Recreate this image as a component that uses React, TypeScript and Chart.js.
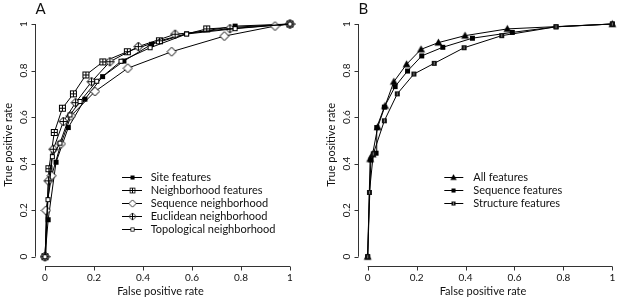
import React, { useEffect, useRef } from "react";
import { Chart, registerables } from "chart.js";
Chart.register(...registerables);

const FONT = "Lato, 'Open Sans', sans-serif";

// ---- Axis ticks ----
const tickValues = [0, 0.2, 0.4, 0.6, 0.8, 1];
const tickLabels = ["0", "0.2", "0.4", "0.6", "0.8", "1"];
const xTitle = "False positive rate";
const yTitle = "True positive rate";

// ---- Panel A: ROC curves (FPR, TPR) ----
const siteFpr = [0, 0.013, 0.045, 0.095, 0.163, 0.235, 0.322, 0.435, 0.578, 0.776, 1];
const siteTpr = [0, 0.159, 0.406, 0.555, 0.677, 0.774, 0.841, 0.913, 0.958, 0.991, 1];

const neighFpr = [0, 0.016, 0.038, 0.071, 0.116, 0.167, 0.236, 0.336, 0.467, 0.66, 1];
const neighTpr = [0, 0.378, 0.534, 0.638, 0.7, 0.781, 0.837, 0.881, 0.928, 0.979, 1];

const seqNFpr = [0, 0.004, 0.027, 0.065, 0.106, 0.204, 0.338, 0.517, 0.732, 0.939, 1];
const seqNTpr = [0, 0.199, 0.348, 0.485, 0.605, 0.71, 0.81, 0.881, 0.948, 0.991, 1];

const euclFpr = [0, 0.014, 0.034, 0.075, 0.125, 0.19, 0.265, 0.381, 0.531, 0.755, 1];
const euclTpr = [0, 0.326, 0.462, 0.581, 0.662, 0.752, 0.838, 0.903, 0.956, 0.98, 1];

const topoFpr = [0, 0.012, 0.03, 0.061, 0.102, 0.143, 0.211, 0.31, 0.429, 0.578, 0.776, 1];
const topoTpr = [0, 0.245, 0.43, 0.488, 0.609, 0.667, 0.754, 0.84, 0.898, 0.957, 0.98, 1];

const namesA = [
  "Site features",
  "Neighborhood features",
  "Sequence neighborhood",
  "Euclidean neighborhood",
  "Topological neighborhood",
];

// ---- Panel B ----
const allFpr = [0, 0.01, 0.02, 0.041, 0.071, 0.107, 0.159, 0.218, 0.289, 0.398, 0.571, 1];
const allTpr = [0, 0.42, 0.44, 0.557, 0.648, 0.752, 0.827, 0.891, 0.92, 0.95, 0.979, 1];

const seqFpr = [0, 0.013, 0.034, 0.037, 0.068, 0.112, 0.163, 0.221, 0.307, 0.428, 0.591, 0.77, 1];
const seqTpr = [0, 0.416, 0.445, 0.555, 0.643, 0.731, 0.798, 0.863, 0.9, 0.939, 0.964, 0.988, 1];

const strFpr = [0, 0.007, 0.023, 0.068, 0.121, 0.189, 0.272, 0.394, 0.548, 0.77, 1];
const strTpr = [0, 0.276, 0.442, 0.584, 0.7, 0.785, 0.831, 0.898, 0.95, 0.988, 1];

const namesB = ["All features", "Sequence features", "Structure features"];

// ---- markers ----
function makeMarker(kind: string): HTMLCanvasElement {
  const s = 11;
  const c = document.createElement("canvas");
  c.width = s;
  c.height = s;
  const g = c.getContext("2d")!;
  g.lineWidth = 1;
  g.strokeStyle = "#000";
  g.fillStyle = "#000";
  const plus = () => {
    g.beginPath();
    g.moveTo(5.5, 2.5);
    g.lineTo(5.5, 8.5);
    g.moveTo(2.5, 5.5);
    g.lineTo(8.5, 5.5);
    g.stroke();
  };
  const plusD = () => {
    g.beginPath();
    g.moveTo(5.5, 1.5);
    g.lineTo(5.5, 9.5);
    g.moveTo(1.5, 5.5);
    g.lineTo(9.5, 5.5);
    g.stroke();
  };
  const diamond = () => {
    g.beginPath();
    g.moveTo(5.5, 1);
    g.lineTo(10, 5.5);
    g.lineTo(5.5, 10);
    g.lineTo(1, 5.5);
    g.closePath();
    g.fillStyle = "#fff";
    g.fill();
    g.stroke();
  };
  switch (kind) {
    case "fsquare":
      g.fillRect(3, 3, 5, 5);
      break;
    case "sqplus":
      g.fillStyle = "#fff";
      g.fillRect(2.5, 2.5, 6, 6);
      g.strokeRect(2.5, 2.5, 6, 6);
      plus();
      break;
    case "diamond":
      diamond();
      break;
    case "diamondplus":
      diamond();
      plusD();
      break;
    case "square":
      g.fillStyle = "#fff";
      g.fillRect(3.5, 3.5, 4, 4);
      g.strokeRect(3.5, 3.5, 4, 4);
      break;
    case "triangle":
      g.beginPath();
      g.moveTo(5.5, 1.5);
      g.lineTo(9.5, 8.5);
      g.lineTo(1.5, 8.5);
      g.closePath();
      g.fill();
      break;
    case "bsquare":
      g.fillStyle = "#111";
      g.fillRect(3, 3, 5, 5);
      g.fillStyle = "#777";
      g.fillRect(5, 4, 1, 3);
      break;
  }
  return c;
}

type Series = { name: string; x: number[]; y: number[]; marker: string };

function buildPlugin(
  letter: string,
  series: Series[],
  leg: { lx0: number; lx1: number; tx: number; y0: number; dy: number },
  markers: HTMLCanvasElement[]
) {
  return {
    id: "rAxes" + letter,
    afterDraw(chart: any) {
      const ctx = chart.ctx as CanvasRenderingContext2D;
      const xs = chart.scales.x;
      const ys = chart.scales.y;
      const area = chart.chartArea;
      ctx.save();
      ctx.strokeStyle = "#333";
      ctx.lineWidth = 1;
      ctx.fillStyle = "#111";
      // bottom axis
      const by = Math.round(area.bottom) + 0.5;
      ctx.beginPath();
      ctx.moveTo(xs.getPixelForValue(tickValues[0]), by);
      ctx.lineTo(xs.getPixelForValue(tickValues[tickValues.length - 1]), by);
      tickValues.forEach((v) => {
        const px = Math.round(xs.getPixelForValue(v)) + 0.5;
        ctx.moveTo(px, by);
        ctx.lineTo(px, by + 4);
      });
      ctx.stroke();
      // left axis
      const lx = Math.round(area.left) + 0.5;
      ctx.beginPath();
      ctx.moveTo(lx, ys.getPixelForValue(tickValues[0]));
      ctx.lineTo(lx, ys.getPixelForValue(tickValues[tickValues.length - 1]));
      tickValues.forEach((v) => {
        const py = Math.round(ys.getPixelForValue(v)) + 0.5;
        ctx.moveTo(lx, py);
        ctx.lineTo(lx - 4, py);
      });
      ctx.stroke();
      // tick labels
      ctx.font = "10px " + FONT;
      ctx.textAlign = "center";
      ctx.textBaseline = "middle";
      tickValues.forEach((v, i) => {
        ctx.fillText(tickLabels[i], xs.getPixelForValue(v), area.bottom + 12);
      });
      tickValues.forEach((v, i) => {
        ctx.save();
        ctx.translate(area.left - 11.5, ys.getPixelForValue(v));
        ctx.rotate(-Math.PI / 2);
        ctx.fillText(tickLabels[i], 0, 0);
        ctx.restore();
      });
      // titles
      ctx.font = "11px " + FONT;
      ctx.fillText(xTitle, (xs.getPixelForValue(0) + xs.getPixelForValue(1)) / 2 - 7, area.bottom + 25);
      ctx.save();
      ctx.translate(area.left - 26.5, (area.top + area.bottom) / 2 + 4.5);
      ctx.rotate(-Math.PI / 2);
      ctx.fillText(yTitle, 0, 0);
      ctx.restore();
      // panel letter
      ctx.font = "15px " + FONT;
      ctx.fillText(letter, area.left + 5.5, 9);
      // legend
      ctx.font = "11px " + FONT;
      ctx.textAlign = "left";
      series.forEach((s, i) => {
        const y = leg.y0 + i * leg.dy;
        const yy = Math.round(y) + 0.5;
        ctx.strokeStyle = "#000";
        ctx.beginPath();
        ctx.moveTo(leg.lx0, yy);
        ctx.lineTo(leg.lx1, yy);
        ctx.stroke();
        const m = markers[i];
        const sz = 9;
        ctx.drawImage(m, Math.round((leg.lx0 + leg.lx1) / 2 - sz / 2), Math.round(yy - sz / 2), sz, sz);
        ctx.fillText(s.name, leg.tx, y + 0.5);
      });
      ctx.restore();
    },
  };
}

function makeChart(canvas: HTMLCanvasElement, letter: string, series: Series[], padding: any, leg: any) {
  const markers = series.map((s) => makeMarker(s.marker));
  const datasets = series.map((s, i) => ({
    label: s.name,
    data: s.x.map((xv, j) => ({ x: xv, y: s.y[j] })),
    borderColor: "#000",
    backgroundColor: "#000",
    borderWidth: 1,
    pointStyle: markers[i] as any,
    pointRadius: 4,
    pointHoverRadius: 4,
    tension: 0,
    order: series.length - i,
  }));
  return new Chart(canvas, {
    type: "line",
    data: { datasets },
    options: {
      responsive: false,
      animation: false,
      devicePixelRatio: 1,
      layout: { padding },
      plugins: { legend: { display: false }, tooltip: { enabled: false } },
      scales: {
        x: { type: "linear", min: -0.04, max: 1.04, display: false },
        y: { type: "linear", min: -0.04, max: 1.04, display: false },
      },
    },
    plugins: [buildPlugin(letter, series, leg, markers)],
  } as any);
}

export default function App() {
  const refA = useRef<HTMLCanvasElement>(null);
  const refB = useRef<HTMLCanvasElement>(null);
  useEffect(() => {
    const seriesA: Series[] = [
      { name: namesA[0], x: siteFpr, y: siteTpr, marker: "fsquare" },
      { name: namesA[1], x: neighFpr, y: neighTpr, marker: "sqplus" },
      { name: namesA[2], x: seqNFpr, y: seqNTpr, marker: "diamond" },
      { name: namesA[3], x: euclFpr, y: euclTpr, marker: "diamondplus" },
      { name: namesA[4], x: topoFpr, y: topoTpr, marker: "square" },
    ];
    const seriesB: Series[] = [
      { name: namesB[0], x: allFpr, y: allTpr, marker: "triangle" },
      { name: namesB[1], x: seqFpr, y: seqTpr, marker: "fsquare" },
      { name: namesB[2], x: strFpr, y: strTpr, marker: "bsquare" },
    ];
    const a = makeChart(
      refA.current!,
      "A",
      seriesA,
      { left: 35.2, right: 10.2, top: 14.7, bottom: 34.0 },
      { lx0: 122, lx1: 142, tx: 150.7, y0: 176.7, dy: 13.15 }
    );
    const b = makeChart(
      refB.current!,
      "B",
      seriesB,
      { left: 47.9, right: 7.9, top: 14.7, bottom: 34.0 },
      { lx0: 134.3, lx1: 153.3, tx: 163.3, y0: 176.7, dy: 13.3 }
    );
    return () => {
      a.destroy();
      b.destroy();
    };
  }, []);
  return (
    <div style={{ position: "absolute", left: 0, top: 0, width: 619, height: 300, overflow: "hidden", background: "#fff" }}>
      <canvas ref={refA} width={310} height={300} style={{ position: "absolute", left: 0, top: 0, width: 310, height: 300 }} />
      <canvas ref={refB} width={320} height={300} style={{ position: "absolute", left: 310, top: 0, width: 320, height: 300 }} />
    </div>
  );
}
